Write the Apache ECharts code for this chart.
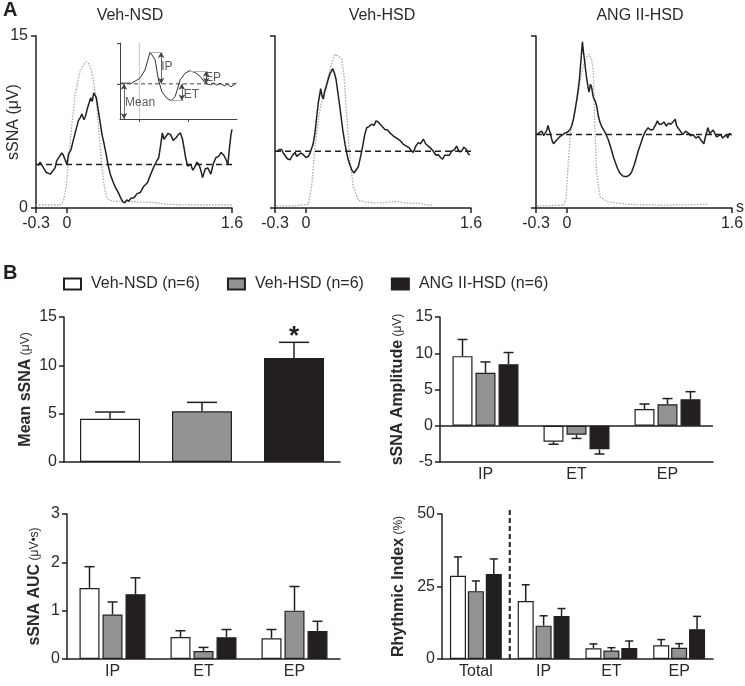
<!DOCTYPE html>
<html>
<head>
<meta charset="utf-8">
<script src="https://cdn.jsdelivr.net/npm/echarts@6/dist/echarts.min.js"></script>
<style>
  html, body { margin: 0; padding: 0; background: #fff; }
  #main { width: 745px; height: 686px; }
</style>
</head>
<body>
<div id="main"></div>
<script>
// ---- panel A: averaged traces [time (s), sSNA (uV)]
const nsdBlack = [[-0.28,3.7],[-0.26,4.0],[-0.245,3.9],[-0.22,3.4],[-0.2,3.1],[-0.16,2.95],[-0.14,3.2],[-0.115,3.5],[-0.1,4.1],[-0.08,4.4],[-0.05,4.8],[-0.035,4.6],[-0.02,4.5],[0,3.8],[0.015,4.7],[0.04,5.1],[0.06,5.85],[0.09,6.9],[0.11,7.6],[0.13,7.9],[0.145,8.2],[0.165,7.7],[0.18,8.0],[0.2,8.75],[0.23,9.6],[0.245,9.3],[0.26,10.05],[0.275,9.8],[0.285,9.6],[0.305,8.45],[0.34,6.4],[0.36,5.6],[0.38,4.7],[0.4,3.7],[0.42,2.95],[0.45,2.2],[0.47,1.8],[0.5,1.3],[0.52,0.9],[0.54,0.55],[0.56,0.45],[0.58,0.7],[0.6,0.6],[0.62,0.85],[0.65,0.9],[0.68,1.25],[0.71,1.35],[0.745,1.9],[0.78,2.2],[0.81,2.9],[0.845,3.65],[0.87,4.1],[0.89,4.4],[0.91,5.6],[0.925,6.55],[0.94,6.0],[0.955,6.1],[0.98,6.5],[1.005,6.4],[1.03,5.9],[1.055,6.1],[1.08,6.4],[1.1,6.55],[1.12,6.0],[1.135,5.25],[1.15,4.4],[1.17,3.65],[1.2,3.8],[1.22,3.3],[1.235,3.5],[1.26,4.0],[1.28,3.8],[1.3,3.2],[1.315,2.65],[1.34,3.4],[1.365,3.5],[1.395,2.95],[1.42,3.9],[1.445,4.4],[1.47,4.5],[1.495,4.85],[1.52,4.6],[1.54,4.25],[1.56,3.8],[1.575,5.2],[1.59,6.4],[1.6,6.85]];
const nsdGray = [[-0.3,0.26],[-0.066,0.26],[-0.034,0.6],[-0.008,1.8],[0.015,4.1],[0.048,7.3],[0.08,9.9],[0.122,11.8],[0.161,12.5],[0.187,12.75],[0.22,12.5],[0.252,11.4],[0.285,9.3],[0.307,7.0],[0.334,4.1],[0.363,1.8],[0.389,0.85],[0.437,0.6],[0.65,0.55],[0.844,0.47],[0.974,0.32],[1.168,0.26],[1.6,0.26]];

const hsdBlack = [[-0.284,4.9],[-0.26,5.1],[-0.235,5.1],[-0.22,4.8],[-0.203,4.65],[-0.18,4.3],[-0.155,4.2],[-0.13,4.6],[-0.106,4.85],[-0.09,4.5],[-0.074,4.5],[-0.05,4.8],[-0.025,4.65],[0,4.4],[0.023,4.5],[0.04,4.8],[0.055,4.9],[0.07,5.6],[0.088,6.6],[0.105,8.0],[0.12,9.2],[0.143,10.4],[0.155,9.8],[0.168,9.5],[0.18,10.1],[0.194,10.5],[0.215,11.2],[0.233,11.7],[0.245,11.6],[0.259,12.15],[0.275,11.8],[0.291,11.25],[0.323,9.2],[0.356,6.85],[0.38,5.5],[0.395,4.8],[0.41,4.2],[0.427,3.75],[0.445,3.3],[0.466,3.05],[0.485,3.2],[0.508,3.6],[0.53,4.5],[0.55,5.4],[0.57,6.4],[0.589,7.0],[0.61,7.1],[0.637,7.3],[0.66,7.2],[0.679,7.6],[0.7,7.5],[0.718,7.45],[0.74,7.1],[0.766,6.85],[0.79,6.8],[0.815,6.55],[0.845,6.3],[0.879,6.1],[0.91,5.9],[0.944,5.55],[0.975,5.4],[1.002,5.25],[1.02,5.0],[1.04,4.85],[1.065,5.4],[1.089,5.7],[1.11,5.6],[1.138,6.0],[1.16,5.6],[1.186,5.4],[1.21,5.2],[1.235,4.95],[1.26,4.6],[1.283,4.65],[1.305,4.4],[1.325,4.25],[1.345,4.6],[1.364,4.75],[1.39,4.6],[1.412,4.95],[1.44,5.1],[1.461,5.4],[1.485,4.9],[1.509,4.95],[1.53,5.3],[1.551,5.15],[1.575,4.7],[1.59,4.65]];
const hsdGray = [[-0.284,0.18],[-0.12,0.18],[0.023,0.32],[0.055,1.85],[0.088,5.4],[0.136,8.6],[0.175,10.1],[0.217,11.55],[0.259,12.9],[0.285,13.4],[0.304,13.45],[0.346,13.0],[0.369,11.55],[0.395,8.0],[0.427,4.2],[0.459,1.85],[0.508,0.68],[0.572,0.53],[0.66,0.44],[0.75,0.44],[0.83,0.55],[0.91,0.53],[1.0,0.38],[1.073,0.44],[1.15,0.3],[1.235,0.24]];

const angBlack = [[-0.29,6.4],[-0.265,6.6],[-0.242,6.7],[-0.225,6.3],[-0.21,6.3],[-0.195,6.8],[-0.184,7.2],[-0.172,6.8],[-0.162,6.55],[-0.145,5.9],[-0.13,5.6],[-0.112,5.7],[-0.097,5.95],[-0.08,6.1],[-0.065,6.25],[-0.04,6.4],[-0.017,6.55],[0.005,6.6],[0.031,6.85],[0.048,7.2],[0.063,7.75],[0.08,8.6],[0.096,9.5],[0.11,10.4],[0.121,11.25],[0.135,12.8],[0.15,14.5],[0.16,13.6],[0.169,13.0],[0.18,12.1],[0.192,11.25],[0.205,10.5],[0.214,10.1],[0.228,10.8],[0.24,10.5],[0.252,9.8],[0.263,9.5],[0.275,9.3],[0.288,8.9],[0.305,8.0],[0.321,7.45],[0.337,7.1],[0.353,6.85],[0.375,6.5],[0.401,5.95],[0.42,5.4],[0.44,4.8],[0.456,4.3],[0.472,3.9],[0.493,3.4],[0.514,3.05],[0.54,2.8],[0.562,2.75],[0.585,2.75],[0.61,2.9],[0.63,3.2],[0.652,3.75],[0.67,4.3],[0.69,4.95],[0.715,5.6],[0.739,6.25],[0.762,6.7],[0.787,7.0],[0.81,6.8],[0.835,6.85],[0.857,7.2],[0.877,7.6],[0.895,7.3],[0.915,7.3],[0.94,7.5],[0.964,7.15],[0.985,7.4],[1.005,7.3],[1.028,7.5],[1.05,7.75],[1.062,7.2],[1.076,7.0],[1.1,6.7],[1.124,6.4],[1.15,6.7],[1.173,6.55],[1.2,6.3],[1.221,6.4],[1.25,6.1],[1.276,6.25],[1.3,5.9],[1.327,5.6],[1.345,6.3],[1.366,7.0],[1.385,6.5],[1.404,6.4],[1.418,6.8],[1.43,6.7],[1.45,6.2],[1.468,6.25],[1.49,6.4],[1.51,6.1],[1.526,6.25],[1.545,6.4],[1.558,6.1],[1.575,6.5],[1.59,6.4]];
const angGray = [[-0.29,0.18],[-0.033,0.24],[-0.011,0.7],[0.015,4.2],[0.04,7.15],[0.073,8.2],[0.105,9.8],[0.137,11.55],[0.176,13.0],[0.214,13.4],[0.24,12.9],[0.256,11.85],[0.264,9.0],[0.272,6.55],[0.288,3.05],[0.321,0.97],[0.401,0.53],[0.594,0.32],[0.915,0.24],[1.366,0.32]];

const panelTitles = ['Veh-NSD', 'Veh-HSD', 'ANG II-HSD'];
const meanLevels = [3.8, 4.95, 6.4];
const timeTicks = [-0.3, 0, 1.6];

// ---- inset schematic (arbitrary units)
const insetCurve = [[0,107],[35,107],[60,122],[75,147],[90,200],[105,177],[115,117],[125,82],[140,62],[153,55],[165,67],[180,117],[195,137],[208,144],[225,139],[240,127],[255,107],[270,102],[280,108],[290,101],[300,106],[312,99],[322,104],[332,96],[342,103],[348,108]];
const insetMean = 105;
const insetOnset = 58;
const insetArrows = [[12,0,105],[123,200,105],[185,105,55],[258,144,105]];
const insetGuides = [[90,127,200],[153,190,55],[208,262,144]];
const insetLabels = [[140,157,'IP'],[278,123,'EP'],[214,72,'ET'],[60,50,'Mean']];

// ---- panel B: group means and SEM
const groups = ['Veh-NSD (n=6)', 'Veh-HSD (n=6)', 'ANG II-HSD (n=6)'];
const fills = ['#ffffff', '#939393', '#231f20'];

const meanVals = [4.48, 5.24, 10.76];
const meanErr = [0.69, 0.93, 1.62];
const meanSig = ['', '', '*'];

const phaseCats = ['IP', 'ET', 'EP'];
const ampNSD = [9.6, -2.2, 2.3];
const ampNSDErr = [2.3, 0.35, 0.7];
const ampHSD = [7.3, -1.25, 2.95];
const ampHSDErr = [1.5, 0.5, 0.8];
const ampANG = [8.5, -3.25, 3.65];
const ampANGErr = [1.6, 0.65, 1.05];

const aucNSD = [1.47, 0.455, 0.43];
const aucNSDErr = [0.44, 0.13, 0.18];
const aucHSD = [0.92, 0.165, 1.0];
const aucHSDErr = [0.26, 0.075, 0.5];
const aucANG = [1.34, 0.45, 0.58];
const aucANGErr = [0.34, 0.16, 0.2];

const rhyCats = ['Total', 'IP', 'ET', 'EP'];
const rhyNSD = [28.7, 20.0, 3.7, 4.7];
const rhyNSDErr = [6.5, 5.6, 1.5, 2.0];
const rhyHSD = [23.4, 11.5, 2.9, 3.9];
const rhyHSDErr = [3.5, 3.4, 1.0, 1.4];
const rhyANG = [29.3, 14.8, 3.8, 10.3];
const rhyANGErr = [5.2, 2.6, 2.4, 4.4];
const rhyDivider = 1; // boundary between Total and the phases

const FONT = '"Liberation Sans", Arial, Helvetica, sans-serif';
const INK = '#231f20';
const TXT = '#2a2a2a';
const CLEAR = 'rgba(0,0,0,0)';

const chart = echarts.init(document.getElementById('main'));

function axLine(color, width) {
  return { show: true, onZero: false, lineStyle: { color: color || INK, width: width || 1.5 } };
}
function tick() {
  return { show: true, length: 5, lineStyle: { color: INK, width: 1.5 } };
}
function lbl(extra) {
  return Object.assign({ color: TXT, fontSize: 16, fontFamily: FONT }, extra || {});
}

function line(ax, data, style, z) {
  return {
    type: 'line', xAxisIndex: ax, yAxisIndex: ax, data: data,
    showSymbol: false, symbol: 'none', silent: true, z: z || 2,
    lineStyle: style
  };
}

function bars(ax, name, vals, fill, width, gap) {
  return {
    type: 'bar', name: name, xAxisIndex: ax, yAxisIndex: ax, data: vals,
    barWidth: width, barGap: gap, silent: true,
    itemStyle: { color: fill, borderColor: INK, borderWidth: 1.2 }
  };
}

function errBars(ax, vals, errs, off, cap, sig) {
  return {
    type: 'custom', xAxisIndex: ax, yAxisIndex: ax, z: 5, silent: true,
    data: vals.map((v, i) => [i, v, errs[i]]),
    renderItem(params, api) {
      const i = api.value(0), v = api.value(1), e = api.value(2);
      const a = api.coord([i, v]);
      const b = api.coord([i, v < 0 ? v - e : v + e]);
      const x = a[0] + off;
      const st = { stroke: INK, lineWidth: 1.5 };
      const kids = [
        { type: 'line', shape: { x1: x, y1: a[1], x2: x, y2: b[1] }, style: st },
        { type: 'line', shape: { x1: x - cap / 2, y1: b[1], x2: x + cap / 2, y2: b[1] }, style: st }
      ];
      if (sig && sig[i]) {
        kids.push({ type: 'text', style: { text: sig[i], x: x, y: b[1] - 5, align: 'center', verticalAlign: 'middle', font: 'bold 26px ' + FONT, fill: INK } });
      }
      return { type: 'group', children: kids };
    }
  };
}

const blackStyle = { color: INK, width: 1.5 };
const grayStyle = { color: '#a8a8a8', width: 1.3, type: [1.5, 1.5] };
const dashStyle = { color: INK, width: 1.5, type: [6, 4] };

function timeAxis(i, withName) {
  const a = {
    type: 'value', gridIndex: i, min: -0.3, max: 1.6,
    axisLine: axLine(), splitLine: { show: false },
    axisTick: Object.assign(tick(), { customValues: timeTicks }),
    axisLabel: lbl({ customValues: timeTicks, margin: 8 })
  };
  if (withName) {
    a.name = 's';
    a.nameGap = 4;
    a.nameTextStyle = lbl({ padding: [0, 0, 8, 0] });
  }
  return a;
}

// spare x axes that do not contain zero, so the y axes never snap to t = 0
function spareTimeAxis(i) {
  return { type: 'value', gridIndex: i, min: 2, max: 3, show: false };
}

// all three trace panels share one y-axis setup; panels 2 and 3 paint labels and name transparent
function ampAxis(i, visible, spareIndex) {
  const line = axLine();
  line.onZeroAxisIndex = spareIndex;
  return {
    type: 'value', gridIndex: i, min: 0, max: 15, interval: 15,
    axisLine: line, splitLine: { show: false }, axisTick: tick(),
    axisLabel: lbl({ margin: 8, color: visible ? TXT : CLEAR }),
    name: 'sSNA (μV)', nameLocation: 'middle', nameRotate: 90, nameGap: 14,
    nameMoveOverlap: false,
    nameTextStyle: lbl({ color: visible ? TXT : CLEAR })
  };
}

function catAxis(i, cats, showLabel) {
  return {
    type: 'category', gridIndex: i, data: cats,
    axisLine: axLine(),
    axisTick: { show: false },
    axisLabel: lbl({ show: showLabel, margin: 5, interval: 0 })
  };
}

function valAxis(i, min, max, interval, title, unit, gap) {
  return {
    type: 'value', gridIndex: i, min: min, max: max, interval: interval,
    axisLine: axLine(), splitLine: { show: false }, axisTick: tick(),
    axisLabel: lbl({ margin: 7 }),
    name: '{b|' + title + '} {n|' + unit + '}', nameLocation: 'middle', nameRotate: 90, nameGap: gap,
    nameTextStyle: {
      rich: {
        b: { fontFamily: FONT, fontSize: 16, fontWeight: 'bold', color: TXT },
        n: { fontFamily: FONT, fontSize: 12, color: TXT }
      }
    }
  };
}

function box(left, top, width, height) {
  return { left: left, top: top, width: width, height: height, outerBoundsMode: 'none', containLabel: false };
}

const ampStep = 20 * 1.15;
const rhyStep = 16 * 1.12;
const titleStyle = { fontSize: 16, fontWeight: 'normal', color: TXT, fontFamily: FONT };

const option = {
  animation: false,
  backgroundColor: '#fff',
  textStyle: { fontFamily: FONT },
  title: [
    { text: 'A', left: 3, top: 0, padding: 0, textStyle: { fontSize: 20, fontWeight: 'bold', color: INK, fontFamily: FONT } },
    { text: panelTitles[0], left: 130, top: 8, padding: 0, textAlign: 'center', textStyle: titleStyle },
    { text: panelTitles[1], left: 382, top: 8, padding: 0, textAlign: 'center', textStyle: titleStyle },
    { text: panelTitles[2], left: 640, top: 8, padding: 0, textAlign: 'center', textStyle: titleStyle },
    { text: 'B', left: 3, top: 263, padding: 0, textStyle: { fontSize: 20, fontWeight: 'bold', color: INK, fontFamily: FONT } }
  ],
  legend: {
    data: groups, left: 63, top: 276, padding: 0, itemGap: 27,
    itemWidth: 17, itemHeight: 11, icon: 'rect', selectedMode: false,
    textStyle: { color: TXT, fontSize: 16, fontFamily: FONT, padding: [0, 0, 0, 5] }
  },
  grid: [
    box(36, 36, 196, 172), box(275, 36, 196, 172), box(536, 36, 196, 172),
    box(120, 43, 117, 76),
    box(64, 317, 276, 145),
    box(440, 317, 273, 145),
    box(67, 514, 273, 145),
    box(442, 514, 271, 145)
  ],
  xAxis: [
    timeAxis(0, false), timeAxis(1, false), timeAxis(2, true),
    {
      type: 'value', gridIndex: 3, min: 0, max: 350,
      axisLine: axLine('#444', 1), splitLine: { show: false },
      axisTick: { show: true, length: 3, customValues: [insetOnset, 203], lineStyle: { color: '#444', width: 1 } },
      axisLabel: { show: false }
    },
    catAxis(4, groups, false),
    catAxis(5, phaseCats, true),
    catAxis(6, phaseCats, true),
    catAxis(7, rhyCats, true),
    { type: 'value', gridIndex: 7, min: 0, max: 4, show: false },
    spareTimeAxis(0), spareTimeAxis(1), spareTimeAxis(2)
  ],
  yAxis: [
    ampAxis(0, true, 9), ampAxis(1, false, 10), ampAxis(2, false, 11),
    {
      type: 'value', gridIndex: 3, min: 0, max: 227,
      axisLine: axLine('#444', 1), splitLine: { show: false },
      axisTick: { show: true, length: 3, customValues: [insetMean, 227], lineStyle: { color: '#444', width: 1 } },
      axisLabel: { show: false }
    },
    valAxis(4, 0, 15, 5, 'Mean sSNA', '(μV)', 30),
    valAxis(5, -5, 15, 5, 'sSNA Amplitude', '(μV)', 34),
    valAxis(6, 0, 3, 1, 'sSNA AUC', '(μV•s)', 24),
    valAxis(7, 0, 50, 25, 'Rhythmic Index', '(%)', 35)
  ],
  series: [
    // A: stimulus-averaged traces
    line(0, nsdGray, grayStyle, 1), line(0, nsdBlack, blackStyle, 3),
    line(0, [[-0.3, meanLevels[0]], [1.6, meanLevels[0]]], dashStyle, 2),
    line(1, hsdGray, grayStyle, 1), line(1, hsdBlack, blackStyle, 3),
    line(1, [[-0.3, meanLevels[1]], [1.6, meanLevels[1]]], dashStyle, 2),
    line(2, angGray, grayStyle, 1), line(2, angBlack, blackStyle, 3),
    line(2, [[-0.3, meanLevels[2]], [1.6, meanLevels[2]]], dashStyle, 2),

    // inset schematic
    line(3, [[insetOnset, 0], [insetOnset, 227]], { color: '#c8c8c8', width: 1 }, 1),
    Object.assign(line(3, insetCurve, { color: '#333', width: 1 }, 3), {
      markLine: {
        silent: true, symbol: ['arrow', 'arrow'], symbolSize: [5, 6], label: { show: false },
        lineStyle: { color: '#444', width: 0.8, type: 'solid' },
        data: insetArrows.map(a => [{ coord: [a[0], a[1]] }, { coord: [a[0], a[2]] }])
      }
    }),
    Object.assign(line(3, [[0, insetMean], [350, insetMean]], { color: '#444', width: 1, type: [4, 3] }, 2), {
      markLine: {
        silent: true, symbol: 'none', label: { show: false },
        lineStyle: { color: '#b0b0b0', width: 1, type: 'solid' },
        data: insetGuides.map(g => [{ coord: [g[0], g[2]] }, { coord: [g[1], g[2]] }])
      }
    }),
    {
      type: 'scatter', xAxisIndex: 3, yAxisIndex: 3, symbolSize: 0, silent: true,
      data: insetLabels.map(t => ({ value: [t[0], t[1]], name: t[2] })),
      label: { show: true, position: 'inside', formatter: p => p.name, color: '#333', fontSize: 12, fontFamily: FONT }
    },

    // B1: mean sSNA
    bars(4, groups[0], [meanVals[0], '-', '-'], fills[0], 60, '-100%'),
    bars(4, groups[1], ['-', meanVals[1], '-'], fills[1], 60, '-100%'),
    bars(4, groups[2], ['-', '-', meanVals[2]], fills[2], 60, '-100%'),
    errBars(4, meanVals, meanErr, 0, 30, meanSig),

    // B2: amplitude
    Object.assign(bars(5, groups[0], ampNSD, fills[0], 20, '15%'), {
      markLine: {
        silent: true, symbol: 'none', label: { show: false },
        lineStyle: { color: INK, width: 1.5, type: 'solid' }, data: [{ yAxis: 0 }]
      }
    }),
    bars(5, groups[1], ampHSD, fills[1], 20, '15%'),
    bars(5, groups[2], ampANG, fills[2], 20, '15%'),
    errBars(5, ampNSD, ampNSDErr, -ampStep, 10),
    errBars(5, ampHSD, ampHSDErr, 0, 10),
    errBars(5, ampANG, ampANGErr, ampStep, 10),

    // B3: AUC
    bars(6, groups[0], aucNSD, fills[0], 20, '15%'),
    bars(6, groups[1], aucHSD, fills[1], 20, '15%'),
    bars(6, groups[2], aucANG, fills[2], 20, '15%'),
    errBars(6, aucNSD, aucNSDErr, -ampStep, 10),
    errBars(6, aucHSD, aucHSDErr, 0, 10),
    errBars(6, aucANG, aucANGErr, ampStep, 10),

    // B4: rhythmic index
    bars(7, groups[0], rhyNSD, fills[0], 16, '12%'),
    bars(7, groups[1], rhyHSD, fills[1], 16, '12%'),
    bars(7, groups[2], rhyANG, fills[2], 16, '12%'),
    errBars(7, rhyNSD, rhyNSDErr, -rhyStep, 8),
    errBars(7, rhyHSD, rhyHSDErr, 0, 8),
    errBars(7, rhyANG, rhyANGErr, rhyStep, 8),
    {
      type: 'line', xAxisIndex: 8, yAxisIndex: 7, showSymbol: false, symbol: 'none', silent: true, clip: false,
      data: [[rhyDivider, 0], [rhyDivider, 52]],
      lineStyle: { color: INK, width: 2, type: [5, 3] }
    }
  ]
};

chart.setOption(option);
</script>
</body>
</html>
